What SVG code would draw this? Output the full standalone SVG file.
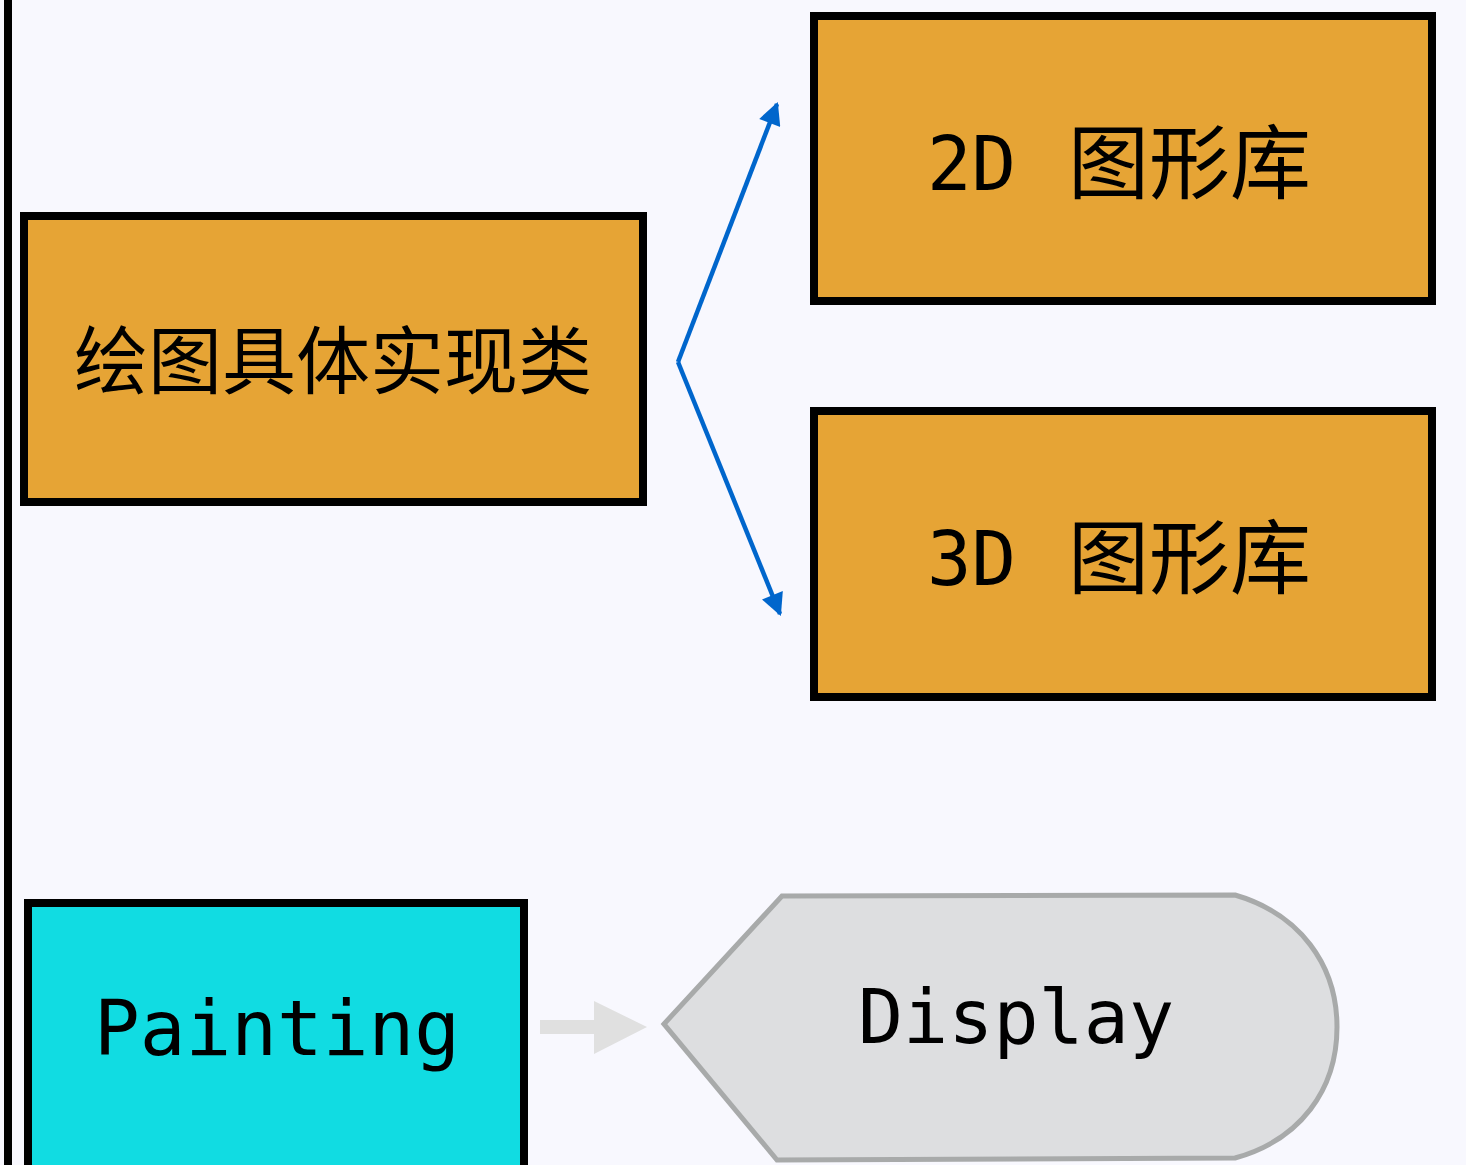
<svg xmlns="http://www.w3.org/2000/svg" width="1466" height="1165" viewBox="0 0 1466 1165">
<defs>
<style>
.box{fill:#E6A435;stroke:#000;stroke-width:8}
.t{font-family:"DejaVu Sans Mono","Noto Sans CJK SC",monospace;font-size:74px;fill:#000;text-anchor:middle}
.s{text-anchor:start}
.cjk{font-size:81px}
.conn{stroke:#0066CC;stroke-width:4.5;fill:none}
</style>
<marker id="ah" viewBox="0 0 10 10" refX="9" refY="5" markerWidth="5.5" markerHeight="5" markerUnits="strokeWidth" orient="auto">
<path d="M0,0 L10,5 L0,10 z" fill="#0066CC"/>
</marker>
</defs>
<rect width="1466" height="1165" fill="#F8F8FE"/>
<line x1="8" y1="0" x2="8" y2="1165" stroke="#000" stroke-width="8"/>
<g id="connectors">
<path class="conn" d="M678,362 L777,104" marker-end="url(#ah)"/>
<path class="conn" d="M678,362 L780,614" marker-end="url(#ah)"/>
<path d="M540,1020 L594,1020 L594,1001 L647,1027 L594,1054 L594,1034 L540,1034 z" fill="#E0E0E0"/>
</g>
<g id="impl">
<rect class="box" x="24" y="216" width="619" height="286"/>
<text class="t" x="333" y="388">绘图具体实现类</text>
</g>
<g id="lib2d">
<rect class="box" x="814" y="16" width="618" height="285"/>
<text class="t s" x="927" y="190">2D <tspan class="cjk" x="1068" y="192">图形库</tspan></text>
</g>
<g id="lib3d">
<rect class="box" x="814" y="411" width="618" height="286"/>
<text class="t s" x="927" y="585">3D <tspan class="cjk" x="1068" y="587">图形库</tspan></text>
</g>
<g id="painting">
<rect x="28" y="903" width="496" height="280" fill="#11DCE2" stroke="#000" stroke-width="8"/>
<text class="t" x="277" y="1055" style="font-size:76px">Painting</text>
</g>
<g id="display">
<path d="M664,1024 L782,896 L1235,895 C1300,914 1337,965 1337,1027 C1337,1090 1300,1140 1235,1158 L777,1160 Z" fill="#DDDEE0" stroke="#A8AAAA" stroke-width="5"/>
<text class="t" x="1016" y="1043" style="font-size:75px">Display</text>
</g>
</svg>
